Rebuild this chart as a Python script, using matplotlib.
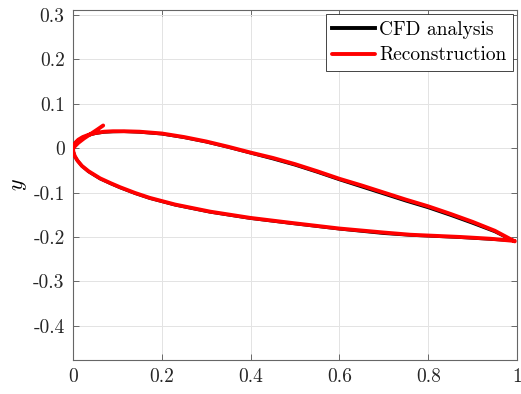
import numpy as np
import matplotlib.pyplot as plt
from matplotlib.ticker import FuncFormatter

plt.rcParams["font.family"] = "cmr10"
plt.rcParams["mathtext.fontset"] = "cm"
plt.rcParams["axes.unicode_minus"] = False
plt.rcParams["axes.formatter.use_mathtext"] = True

# CFD airfoil contour: upper surface (LE -> TE) and lower surface (LE -> TE)
upper_x = [0.0, 0.002, 0.006, 0.012, 0.022, 0.035, 0.05, 0.07, 0.09, 0.115, 0.15, 0.20, 0.25, 0.30,
           0.35, 0.40, 0.45, 0.50, 0.55, 0.60, 0.65, 0.70, 0.75, 0.80, 0.85, 0.90, 0.95, 0.99]
upper_y = [0.0, 0.007, 0.013, 0.018, 0.024, 0.029, 0.033, 0.036, 0.037, 0.0375, 0.036, 0.032, 0.024, 0.014,
           0.002, -0.011, -0.024, -0.038, -0.054, -0.071, -0.087, -0.103, -0.119, -0.134, -0.151, -0.169,
           -0.188, -0.208]
lower_x = [0.0, 0.001, 0.004, 0.010, 0.020, 0.035, 0.061, 0.085, 0.106, 0.14, 0.173, 0.23, 0.309,
           0.399, 0.489, 0.60, 0.70, 0.76, 0.872, 0.94, 0.99]
lower_y = [0.0, -0.008, -0.018, -0.028, -0.040, -0.053, -0.069, -0.080, -0.089, -0.102, -0.113,
           -0.128, -0.144, -0.158, -0.169, -0.182, -0.192, -0.196, -0.201, -0.205, -0.208]

# Reconstruction: starts with a short tail near the leading edge
rec_tail_x = [0.068, 0.055, 0.040, 0.025, 0.012, 0.004]
rec_tail_y = [0.051, 0.042, 0.032, 0.022, 0.012, 0.004]
rec_lower_x = [0.0, 0.001, 0.004, 0.010, 0.020, 0.035, 0.061, 0.085, 0.106, 0.14, 0.173, 0.23, 0.309,
               0.399, 0.489, 0.60, 0.70, 0.76, 0.872, 0.94, 0.995]
rec_lower_y = [-0.002, -0.009, -0.018, -0.028, -0.040, -0.052, -0.068, -0.079, -0.088, -0.101, -0.112,
               -0.127, -0.143, -0.157, -0.168, -0.181, -0.190, -0.195, -0.200, -0.204, -0.209]
rec_upper_x = [0.995, 0.95, 0.90, 0.85, 0.80, 0.75, 0.70, 0.65, 0.60, 0.55, 0.50, 0.45,
               0.40, 0.35, 0.30, 0.25, 0.20, 0.15, 0.115, 0.09, 0.07, 0.05, 0.035, 0.022, 0.012,
               0.006, 0.002, 0.0]
rec_upper_y = [-0.210, -0.186, -0.166, -0.148, -0.131, -0.116, -0.100, -0.084, -0.069, -0.052, -0.036,
               -0.022, -0.010, 0.003, 0.015, 0.025, 0.033, 0.037, 0.038, 0.038, 0.037, 0.034, 0.030,
               0.025, 0.019, 0.013, 0.007, 0.0]

cfd_x = upper_x[::-1] + lower_x[1:]
cfd_y = upper_y[::-1] + lower_y[1:]
rec_x = rec_tail_x + rec_lower_x + rec_upper_x
rec_y = rec_tail_y + rec_lower_y + rec_upper_y

fig = plt.figure(figsize=(5.21, 3.94), dpi=100)
ax = fig.add_axes([73 / 521, 34 / 394, 444 / 521, 350 / 394])

ax.plot(cfd_x, cfd_y, color="black", lw=2.2, label="CFD analysis", zorder=3)
ax.plot(rec_x, rec_y, color="#ff0000", lw=2.8, label="Reconstruction",
        solid_capstyle="round", solid_joinstyle="round", zorder=4)

ax.set_xlim(0, 1)
ax.set_ylim(-0.477, 0.311)
ax.set_xticks(np.arange(0, 1.01, 0.2))
ax.set_yticks(np.arange(-0.4, 0.31, 0.1))


def tick_fmt(v, pos):
    v = round(v, 2)
    if abs(v) < 1e-9:
        return "0"
    return "%g" % v


ax.xaxis.set_major_formatter(FuncFormatter(tick_fmt))
ax.yaxis.set_major_formatter(FuncFormatter(tick_fmt))
ax.set_ylabel("$y$", fontsize=16, labelpad=3)

ax.grid(True, color="#e3e3e3", lw=0.7)
ax.set_axisbelow(True)
ax.tick_params(direction="in", top=True, right=True, length=4, width=0.6,
               color="#555555", labelsize=14, labelcolor="#262626", pad=6)
for s in ax.spines.values():
    s.set_color("#666666")
    s.set_linewidth(0.8)

leg = ax.legend(loc="upper right", fontsize=14, handlelength=2.2, handletextpad=0.2,
                borderpad=0.35, labelspacing=0.4, borderaxespad=0.2,
                fancybox=False, framealpha=1)
leg.get_frame().set_edgecolor("#262626")
leg.get_frame().set_linewidth(0.6)
for line in leg.get_lines():
    line.set_linewidth(2.8)

fig.savefig("out.png", dpi=100)
